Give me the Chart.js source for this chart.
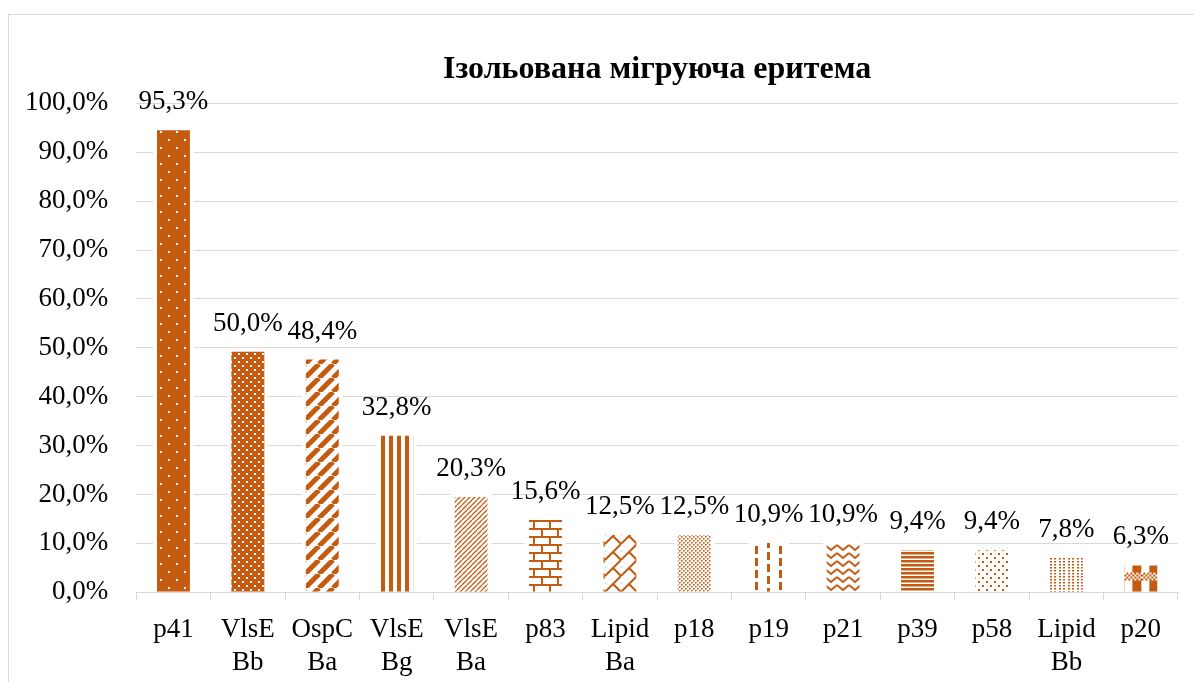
<!DOCTYPE html>
<html>
<head>
<meta charset="utf-8">
<script src="https://cdn.jsdelivr.net/npm/chart.js@4"></script>
<style>
  body { margin: 0; background: #fff; overflow: hidden; }
  #frame { position: absolute; left: 8px; top: 14px; width: 1200px; height: 700px; border: 1px solid #d9d9d9; }
  #wrap { position: absolute; left: -3px; top: 0; width: 1197px; height: 698px; }
</style>
</head>
<body>
<div id="frame"></div>
<div id="wrap"><canvas id="chart" width="1197" height="698"></canvas></div>
<script>
// --- data ---
const title = 'Ізольована мігруюча еритема';
const categories = ['p41', ['VlsE', 'Bb'], ['OspC', 'Ba'], ['VlsE', 'Bg'], ['VlsE', 'Ba'], 'p83',
  ['Lipid', 'Ba'], 'p18', 'p19', 'p21', 'p39', 'p58', ['Lipid', 'Bb'], 'p20'];
const values = [95.3, 50.0, 48.4, 32.8, 20.3, 15.6, 12.5, 12.5, 10.9, 10.9, 9.4, 9.4, 7.8, 6.3];
const yTickValues = [0, 10, 20, 30, 40, 50, 60, 70, 80, 90, 100];

const C = '#C55A11';
const FONT = "'Liberation Serif', 'Times New Roman', serif";
const fmt = v => v.toFixed(1).replace('.', ',') + '%';

const ctx = document.getElementById('chart').getContext('2d');

// --- fill patterns ---
function tile(w, h, bg, draw) {
  const c = document.createElement('canvas');
  c.width = w; c.height = h;
  const g = c.getContext('2d');
  g.fillStyle = bg; g.fillRect(0, 0, w, h);
  draw(g, w, h);
  return ctx.createPattern(c, 'repeat');
}
function diag(g, s, lw, col) {
  g.strokeStyle = col; g.lineWidth = lw;
  g.beginPath();
  for (let k = -1; k <= 1; k++) { g.moveTo(k * s, s); g.lineTo(k * s + s, 0); }
  g.stroke();
}
const patterns = [
  // p41 sparse white dots on orange
  tile(16, 16, C, g => { g.fillStyle = '#fff'; g.fillRect(3, 3, 2, 2); g.fillRect(11, 11, 2, 2); }),
  // VlsE Bb denser white dots
  tile(8, 8, C, g => { g.fillStyle = '#fff'; g.fillRect(1, 1, 2, 2); g.fillRect(5, 5, 2, 2); }),
  // OspC Ba wide upward diagonal
  tile(14, 14, '#fff', g => diag(g, 14, 5, C)),
  // VlsE Bg vertical stripes
  tile(8, 4, '#fff', g => { g.fillStyle = C; g.fillRect(0, 0, 4, 4); }),
  // VlsE Ba light upward diagonal
  tile(5, 5, '#fff', g => diag(g, 5, 1.3, C)),
  // p83 horizontal brick
  tile(16, 16, '#fff', g => {
    g.fillStyle = C;
    g.fillRect(0, 0, 16, 2); g.fillRect(0, 8, 16, 2);
    g.fillRect(0, 0, 2, 8); g.fillRect(8, 8, 2, 8);
  }),
  // Lipid Ba diagonal brick
  tile(16, 16, '#fff', g => {
    diag(g, 16, 2, C);
    g.beginPath(); g.moveTo(8, 8); g.lineTo(16, 16); g.moveTo(0, 8); g.lineTo(-8, 0); g.stroke();
  }),
  // p18 dotted
  tile(4, 4, '#fff', g => { g.fillStyle = C; g.fillRect(0, 0, 1.6, 1.6); g.fillRect(2, 2, 1.6, 1.6); }),
  // p19 dashed vertical
  tile(24, 12, '#fff', g => {
    g.fillStyle = C;
    g.fillRect(2, 0, 3, 8);
    g.fillRect(14, 6, 3, 6); g.fillRect(14, 0, 3, 2);
  }),
  // p21 wave
  tile(12, 8, '#fff', g => {
    g.strokeStyle = C; g.lineWidth = 2;
    g.beginPath(); g.moveTo(0, 1); g.lineTo(6, 6); g.lineTo(12, 1); g.stroke();
  }),
  // p39 narrow horizontal
  tile(4, 4, '#fff', g => { g.fillStyle = C; g.fillRect(0, 0, 4, 2.5); }),
  // p58 sparse orange dots
  tile(8, 8, '#fff', g => { g.fillStyle = C; g.fillRect(1, 1, 2, 2); g.fillRect(5, 5, 2, 2); }),
  // Lipid Bb small grid dots
  tile(9, 3, '#fff', g => { g.fillStyle = C; g.fillRect(0, 0, 2, 1.5); g.fillRect(4, 0, 2, 1.5); }),
  // p20 plaid
  tile(17, 34, '#fff', g => {
    g.fillStyle = C;
    g.fillRect(8, 0, 9, 34);
    g.fillStyle = '#fff'; g.fillRect(0, 10, 17, 8);
    g.fillStyle = C;
    for (let x = 0; x < 17; x += 2) for (let y = 10; y < 18; y += 2) if (((x + y) / 2) % 2 === 0) g.fillRect(x, y, 2, 2);
  })
];

// line the plaid band up with the middle of its bar
const alignPlaid = {
  id: 'alignPlaid',
  beforeDatasetsDraw(chart) {
    const bar = chart.getDatasetMeta(0).data[13];
    if (!bar) return;
    patterns[13].setTransform(new DOMMatrix().translate(bar.x - bar.width / 2 + 4, (bar.y + bar.base) / 2 - 14));
  }
};

// --- value labels above bars ---
const barLabels = {
  id: 'barLabels',
  afterDatasetsDraw(chart) {
    const c = chart.ctx;
    const meta = chart.getDatasetMeta(0);
    c.save();
    c.font = '27px ' + FONT;
    c.fillStyle = '#000';
    c.textAlign = 'center';
    c.textBaseline = 'alphabetic';
    meta.data.forEach((bar, i) => {
      c.fillText(fmt(values[i]), bar.x, bar.y - 17);
    });
    c.restore();
  }
};

new Chart(ctx, {
  type: 'bar',
  data: {
    labels: categories,
    datasets: [{
      data: values,
      backgroundColor: patterns,
      borderColor: '#fff',
      borderWidth: 4,
      borderSkipped: 'bottom',
      categoryPercentage: 1,
      barPercentage: 0.55
    }]
  },
  options: {
    responsive: false,
    animation: false,
    layout: { padding: { left: 0, right: 16, top: 18, bottom: 5 } },
    plugins: {
      legend: { display: false },
      tooltip: { enabled: false },
      title: {
        display: true,
        text: title,
        fullSize: false,
        color: '#000',
        font: { family: FONT, size: 32, weight: 'bold' },
        padding: { top: 33, bottom: 14 }
      }
    },
    scales: {
      x: {
        grid: { offset: true, drawOnChartArea: false, drawTicks: true, tickLength: 8, color: '#d9d9d9' },
        border: { color: '#d9d9d9', width: 1 },
        ticks: { color: '#000', padding: 14, maxRotation: 0, autoSkip: false,
          font: { family: FONT, size: 27, lineHeight: 1.2 } }
      },
      y: {
        min: 0,
        max: 100,
        afterBuildTicks: s => { s.ticks = yTickValues.map(v => ({ value: v })); },
        grid: { color: '#d9d9d9', drawTicks: false },
        border: { display: false },
        ticks: { color: '#000', padding: 28, callback: v => fmt(v),
          font: { family: FONT, size: 27 } }
      }
    }
  },
  plugins: [alignPlaid, barLabels]
});
</script>
</body>
</html>
